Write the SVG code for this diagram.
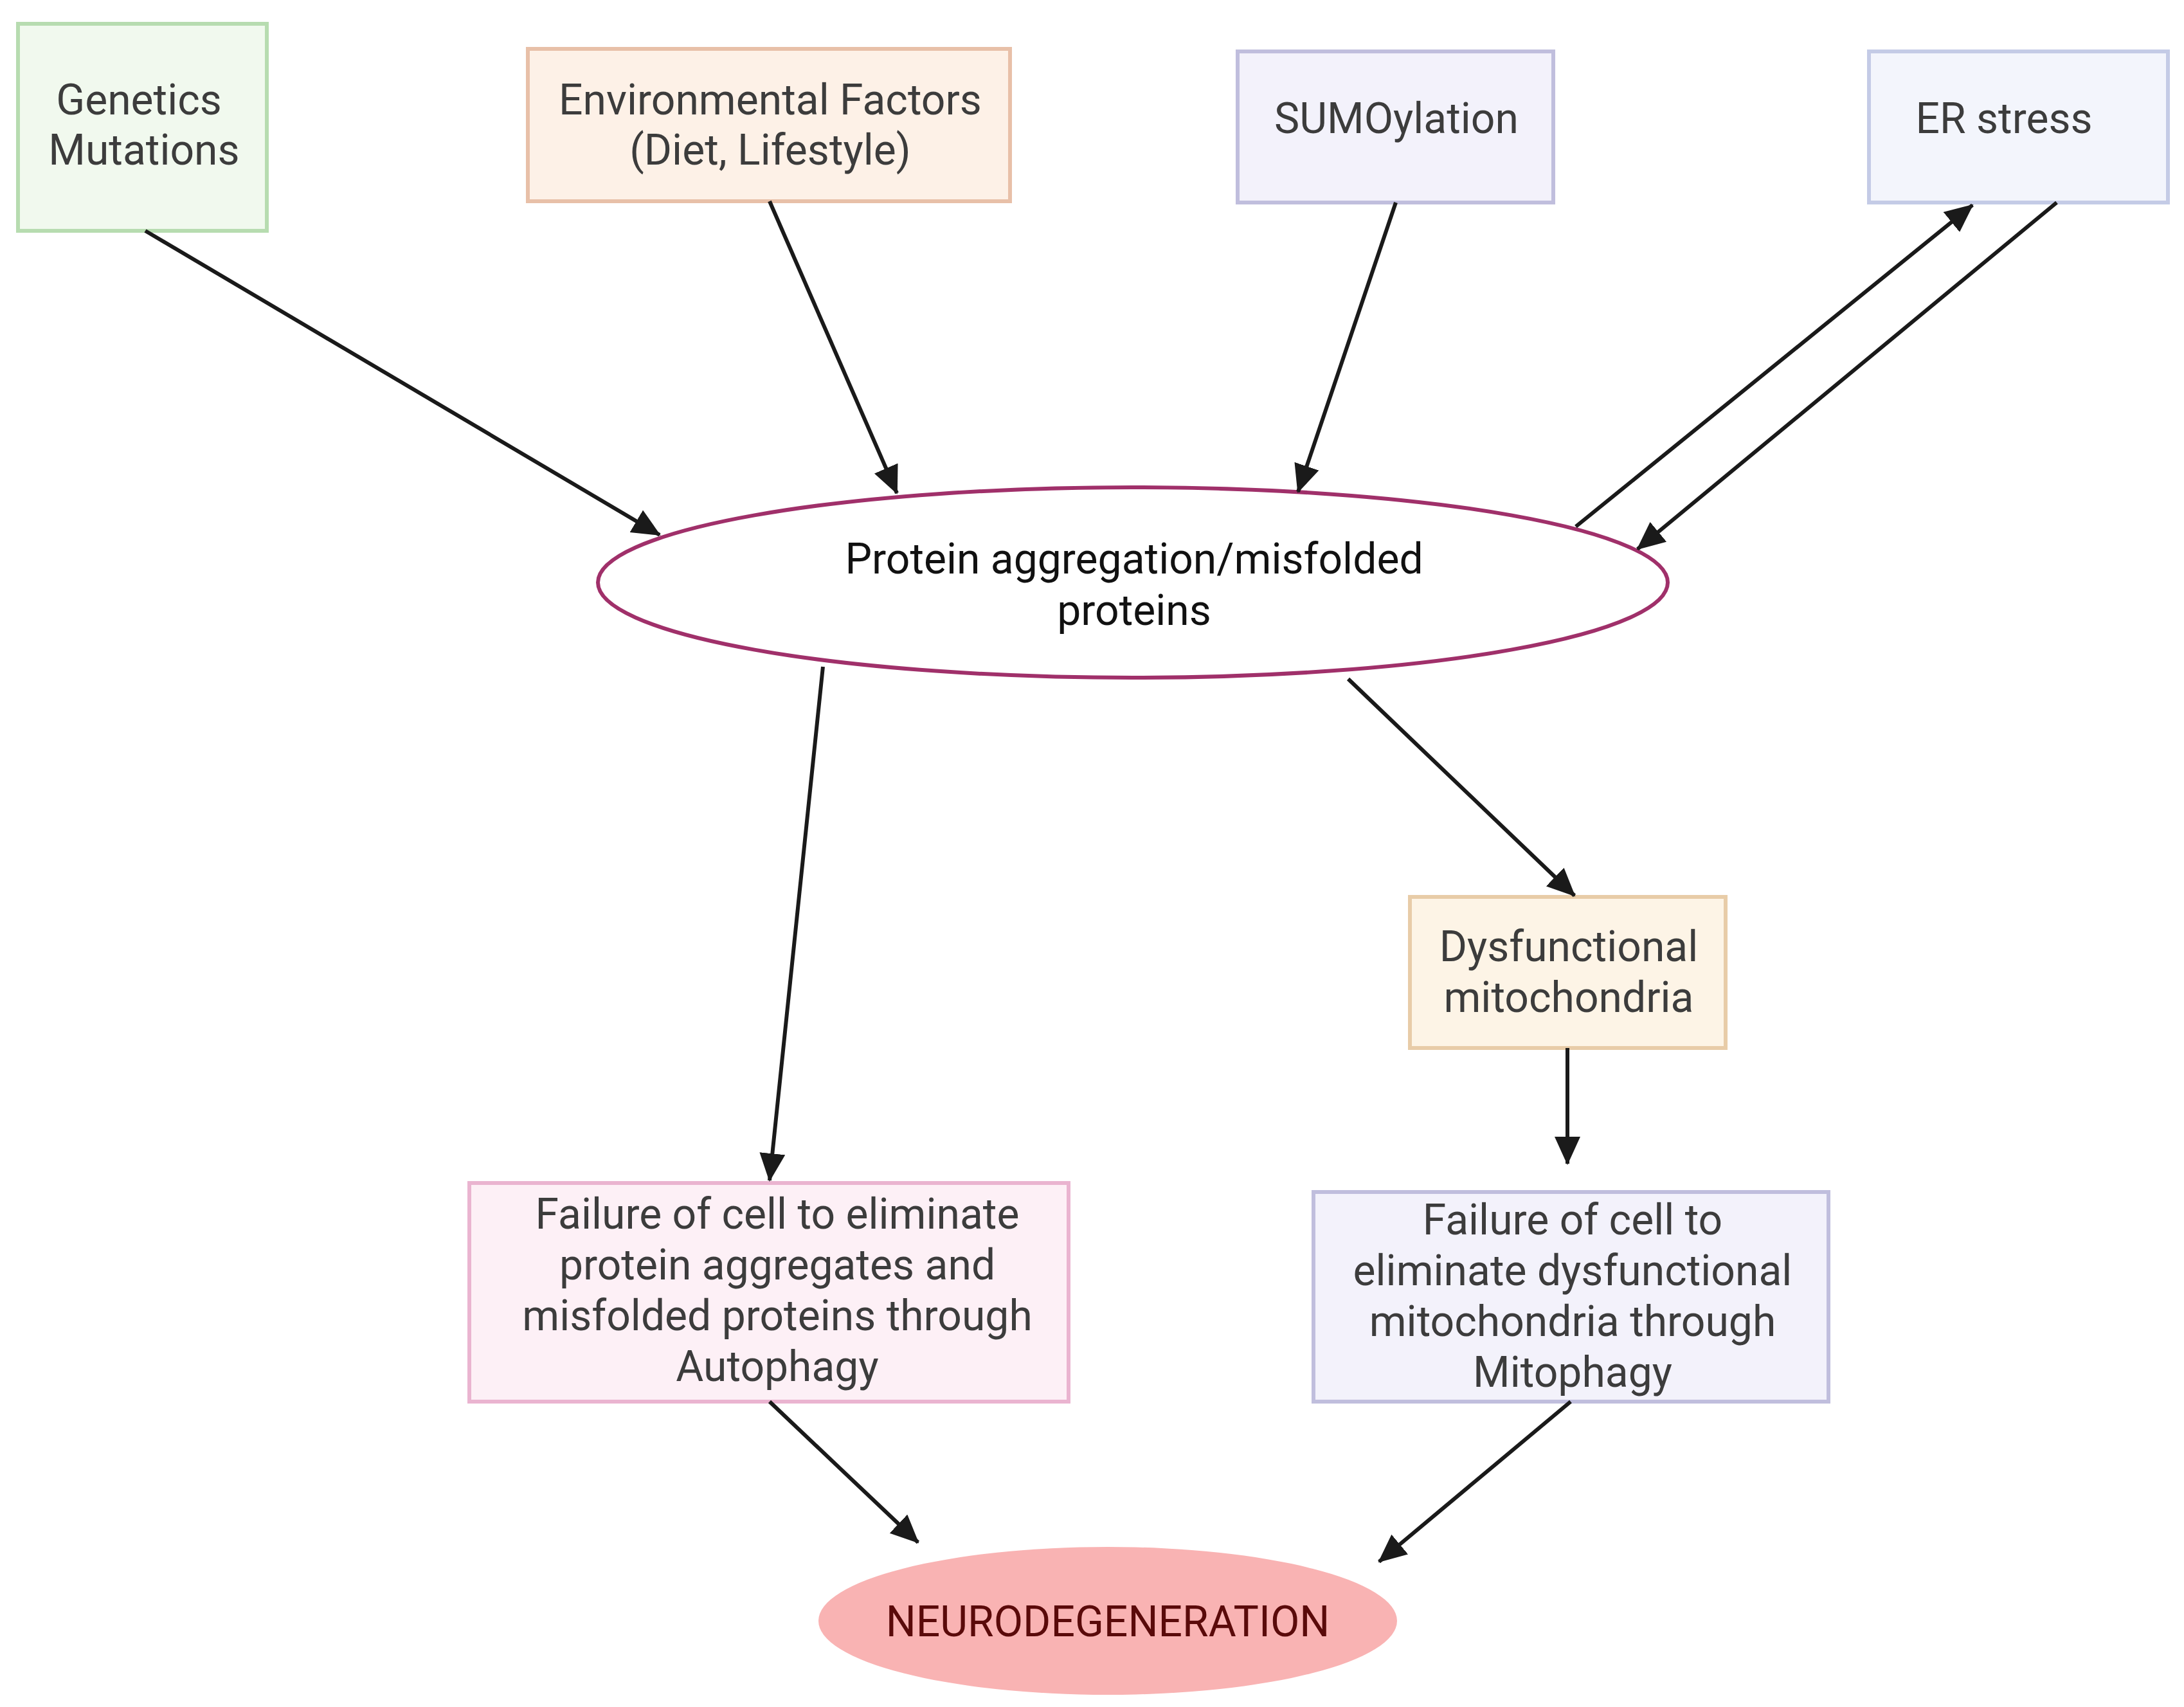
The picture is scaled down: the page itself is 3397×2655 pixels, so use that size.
<svg xmlns="http://www.w3.org/2000/svg" width="3397" height="2655" viewBox="0 0 3397 2655">
<style>
text{font-family:Roboto,"Liberation Sans",sans-serif;font-size:66px;fill:#3c3c3c;text-anchor:middle}
.b{stroke-width:6}
.c line{stroke:#1a1a1a;stroke-width:6;marker-end:url(#ah)}
</style>
<defs><marker id="ah" markerUnits="userSpaceOnUse" markerWidth="44" markerHeight="40" refX="42" refY="20" orient="auto"><path d="M0,0 L44,20 L0,40 z" fill="#1a1a1a"/></marker></defs>
<rect width="3397" height="2655" fill="#fff"/>
<g id="genetics"><rect class="b" x="28" y="37" width="387" height="322" fill="#f1f9ee" stroke="#b7dcb0"/><text x="216" y="178">Genetics</text><text x="224" y="256">Mutations</text></g>
<g id="environmental"><rect class="b" x="821" y="76" width="750" height="237" fill="#fdf1e7" stroke="#e8c0a8"/><text x="1198" y="178">Environmental Factors</text><text x="1198" y="256">(Diet, Lifestyle)</text></g>
<g id="sumo"><rect class="b" x="1925" y="80" width="491" height="235" fill="#f3f2fb" stroke="#c0bedd"/><text x="2172" y="207">SUMOylation</text></g>
<g id="er"><rect class="b" x="2907" y="80" width="465" height="235" fill="#f3f5fc" stroke="#c4cbe6"/><text x="3117" y="207">ER stress</text></g>
<g id="protein"><ellipse class="b" cx="1762" cy="906" rx="832" ry="148" fill="#fff" stroke="#a0306a"/><text x="1764" y="892" style="fill:#111">Protein aggregation/misfolded</text><text x="1764" y="972" style="fill:#111">proteins</text></g>
<g id="dysfunctional"><rect class="b" x="2193" y="1395" width="491" height="235" fill="#fdf4e6" stroke="#e8cca8"/><text x="2440" y="1495">Dysfunctional</text><text x="2440" y="1574">mitochondria</text></g>
<g id="autophagy"><rect class="b" x="730" y="1840" width="932" height="340" fill="#fdf0f6" stroke="#eab4d0"/><text x="1209" y="1911">Failure of cell to eliminate</text><text x="1209" y="1990">protein aggregates and</text><text x="1209" y="2069">misfolded proteins through</text><text x="1209" y="2148">Autophagy</text></g>
<g id="mitophagy"><rect class="b" x="2043" y="1854" width="801" height="326" fill="#f3f2fb" stroke="#c0bedd"/><text x="2446" y="1920">Failure of cell to</text><text x="2446" y="1999">eliminate dysfunctional</text><text x="2446" y="2078">mitochondria through</text><text x="2446" y="2157">Mitophagy</text></g>
<g id="neuro"><ellipse cx="1723" cy="2521" rx="450" ry="115" fill="#f9b3b3"/><text x="1723" y="2545" style="fill:#5a0a0a">NEURODEGENERATION</text></g>
<g class="c" id="connectors">
<line x1="226" y1="359" x2="1026" y2="832"/>
<line x1="1197" y1="313" x2="1395" y2="767"/>
<line x1="2171" y1="315" x2="2019" y2="765"/>
<line x1="2451" y1="819" x2="3068" y2="319"/>
<line x1="3199" y1="315" x2="2547" y2="854"/>
<line x1="1280" y1="1037" x2="1197" y2="1836"/>
<line x1="2097" y1="1056" x2="2449" y2="1393"/>
<line x1="2438" y1="1630" x2="2438" y2="1810"/>
<line x1="1197" y1="2180" x2="1428" y2="2399"/>
<line x1="2443" y1="2180" x2="2145" y2="2429"/>
</g>
</svg>
